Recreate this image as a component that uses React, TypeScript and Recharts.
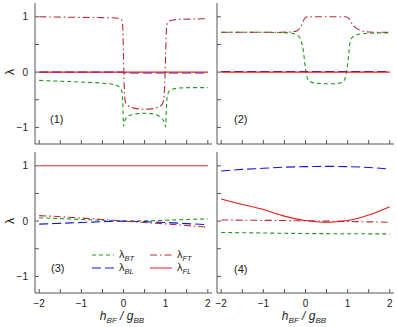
import React from 'react'
import { LineChart, Line, XAxis, YAxis, Legend } from 'recharts'

const FONT = '"Liberation Sans", Arial, Helvetica, sans-serif'

// panel (1)
const p1X = [-2, -1.5, -1, -0.5, -0.2, -0.1, -0.05, -0.02, 0, 0.02, 0.05, 0.1, 0.2, 0.35, 0.5, 0.65, 0.8, 0.9, 0.95, 0.98, 1, 1.02, 1.05, 1.1, 1.2, 1.4, 1.7, 2]
const p1BT = [-0.15, -0.165, -0.18, -0.2, -0.23, -0.27, -0.32, -0.5, -0.98, -0.9, -0.85, -0.8, -0.77, -0.75, -0.745, -0.75, -0.78, -0.83, -0.88, -0.93, -0.99, -0.6, -0.4, -0.33, -0.3, -0.285, -0.28, -0.28]
const p1BL = [0, 0, 0, 0, 0, 0, 0, 0, -0.01, -0.015, -0.015, -0.015, -0.015, -0.015, -0.015, -0.015, -0.015, -0.015, -0.015, -0.015, -0.015, -0.015, -0.015, -0.015, -0.015, -0.015, -0.015, -0.015]
const p1FT = [1, 0.995, 0.99, 0.985, 0.98, 0.97, 0.95, 0.85, 0.3, -0.35, -0.55, -0.6, -0.64, -0.665, -0.67, -0.665, -0.64, -0.6, -0.52, -0.2, 0.3, 0.8, 0.9, 0.93, 0.945, 0.955, 0.96, 0.965]
const p1FL = p1X.map(() => 0)

// panel (2)
const p2X = [-2, -1.5, -1, -0.6, -0.4, -0.3, -0.2, -0.15, -0.1, -0.05, 0, 0.05, 0.1, 0.2, 0.35, 0.5, 0.65, 0.8, 0.9, 0.95, 1, 1.05, 1.1, 1.2, 1.3, 1.5, 1.75, 2]
const p2BT = [0.72, 0.72, 0.72, 0.715, 0.71, 0.7, 0.67, 0.64, 0.56, 0.38, 0.05, -0.12, -0.17, -0.195, -0.205, -0.21, -0.21, -0.2, -0.17, -0.08, 0.15, 0.5, 0.62, 0.67, 0.69, 0.7, 0.71, 0.71]
const p2BL = p2X.map(() => 0.01)
const p2FT = [0.72, 0.72, 0.72, 0.72, 0.725, 0.73, 0.75, 0.78, 0.84, 0.93, 0.99, 1, 1, 1, 1, 1, 1, 1, 1, 1, 0.99, 0.95, 0.88, 0.8, 0.755, 0.725, 0.72, 0.72]
const p2FL = p2X.map(() => 0)

// panel (3)
const p3X = [-2, -1.5, -1, -0.5, 0, 0.5, 1, 1.5, 2]
const p3BT = [0.06, 0.045, 0.03, 0.015, 0, 0.005, 0.015, 0.03, 0.04]
const p3BL = [-0.055, -0.04, -0.025, -0.01, 0, -0.01, -0.025, -0.045, -0.065]
const p3FT = [0.1, 0.08, 0.055, 0.03, 0, -0.025, -0.05, -0.08, -0.11]
const p3FL = [1, 1, 1, 1, 1, 1, 1, 1, 1]

// panel (4)
const p4X = [-2, -1.5, -1, -0.5, 0, 0.25, 0.5, 0.75, 1, 1.5, 2]
const p4BT = [-0.205, -0.21, -0.215, -0.22, -0.224, -0.226, -0.227, -0.228, -0.229, -0.23, -0.232]
const p4BL = [0.905, 0.935, 0.955, 0.975, 0.985, 0.988, 0.99, 0.989, 0.985, 0.97, 0.94]
const p4FT = [0.02, 0.017, 0.014, 0.01, 0.005, 0.002, 0, -0.003, -0.006, -0.013, -0.02]
const p4FL = [0.4, 0.3, 0.21, 0.09, 0.01, -0.01, -0.02, -0.01, 0.01, 0.11, 0.26]

const X_TICKS = [-2, -1.5, -1, -0.5, 0, 0.5, 1, 1.5, 2]
const Y_TICKS = [-1, -0.5, 0, 0.5, 1]
const X_DOMAIN: [number, number] = [-2.1, 2.1]
const Y_DOMAIN: [number, number] = [-1.3, 1.25]

const SERIES = [
  { key: 'bt', sub: 'BT', color: '#1f9a1f', dash: '4 3' },
  { key: 'bl', sub: 'BL', color: '#1414f0', dash: '9 4' },
  { key: 'ft', sub: 'FT', color: '#b52a33', dash: '7 3 1.5 3' },
  { key: 'fl', sub: 'FL', color: '#f01818', dash: undefined as string | undefined },
]

type Row = { x: number; bt: number; bl: number; ft: number; fl: number }
function rows(x: number[], bt: number[], bl: number[], ft: number[], fl: number[]): Row[] {
  return x.map((v, i) => ({ x: v, bt: bt[i], bl: bl[i], ft: ft[i], fl: fl[i] }))
}

const fmtTick = (v: number) => (Number.isInteger(v) ? (v < 0 ? `\u2212${-v}` : String(v)) : '')
const blank = () => ''

const PLOT_W = 177
const PLOT_H = 141
const AX = '#555'
const tickStyle = { fill: '#222', fontSize: 10, fontFamily: FONT }

function LegendBox() {
  const order = [[SERIES[0], SERIES[2]], [SERIES[1], SERIES[3]]]
  return (
    <div style={{ fontFamily: FONT, color: '#222' }}>
      {order.map((row, ri) => (
        <div key={ri} style={{ display: 'flex', height: 13.4, alignItems: 'center' }}>
          {row.map(s => (
            <div key={s.key} style={{ display: 'flex', alignItems: 'center', width: 58 }}>
              <svg width={22} height={10}>
                <line x1={0} x2={22} y1={5} y2={5} stroke={s.color} strokeWidth={1} strokeDasharray={s.dash} />
              </svg>
              <span style={{ fontSize: 11, marginLeft: 5, lineHeight: '11px' }}>
                λ<span style={{ fontSize: 7.5, fontStyle: 'italic', position: 'relative', top: 3 }}>{s.sub}</span>
              </span>
            </div>
          ))}
        </div>
      ))}
    </div>
  )
}

function Panel({ left, top, data, yLabels, xLabels, legend }: {
  left: number; top: number; data: Row[]; yLabels: boolean; xLabels: boolean; legend?: boolean
}) {
  const padL = yLabels ? 35 : 8
  const padB = xLabels ? 20 : 1
  const w = padL + PLOT_W + 3
  const h = 1 + PLOT_H + padB
  return (
    <div style={{ position: 'absolute', left: left - padL, top: top - 1 }}>
      <LineChart width={w} height={h} data={data} margin={{ top: 1, right: 3, bottom: 0, left: 0 }}>
        <XAxis xAxisId="b" dataKey="x" type="number" domain={X_DOMAIN} ticks={X_TICKS} allowDataOverflow
          orientation="bottom" height={padB} interval={0} tickSize={-4} tickMargin={10.5}
          tickFormatter={xLabels ? fmtTick : blank} stroke={AX} tick={tickStyle} />
        <XAxis xAxisId="t" dataKey="x" type="number" domain={X_DOMAIN} ticks={X_TICKS} allowDataOverflow
          orientation="top" height={0} interval={0} tickSize={-4} tickFormatter={blank} stroke={AX} tick={tickStyle} />
        <YAxis yAxisId="l" type="number" domain={Y_DOMAIN} ticks={Y_TICKS} allowDataOverflow
          orientation="left" width={padL} interval={0} tickSize={-4} tickMargin={11}
          tickFormatter={yLabels ? fmtTick : blank} stroke={AX} tick={tickStyle} />
        <YAxis yAxisId="r" type="number" domain={Y_DOMAIN} ticks={Y_TICKS} allowDataOverflow
          orientation="right" width={0} interval={0} tickSize={-4} tickFormatter={blank} stroke={AX} tick={tickStyle} />
        {SERIES.map(s => (
          <Line key={s.key} xAxisId="b" yAxisId="l" dataKey={s.key} type="monotone" stroke={s.color}
            strokeWidth={1.1} strokeDasharray={s.dash} dot={false} isAnimationActive={false} />
        ))}
        {legend && (
          <Legend layout="horizontal" verticalAlign="middle" align="center" content={() => <LegendBox />}
            wrapperStyle={{ left: 92, top: 97, width: 120, height: 27 }} />
        )}
      </LineChart>
    </div>
  )
}

const txt: React.CSSProperties = { position: 'absolute', fontFamily: FONT, color: '#222', whiteSpace: 'nowrap' }

function XLabel({ cx }: { cx: number }) {
  return (
    <div style={{ ...txt, left: cx - 50, width: 100, textAlign: 'center', top: 310, fontSize: 12, lineHeight: '13px', fontStyle: 'italic' }}>
      h<span style={{ fontSize: 8, position: 'relative', top: 3 }}>BF</span> / g<span style={{ fontSize: 8, position: 'relative', top: 3 }}>BB</span>
    </div>
  )
}

function YLabel({ cy }: { cy: number }) {
  return (
    <div style={{ ...txt, left: 4, top: cy - 7, width: 12, height: 14, lineHeight: '14px', textAlign: 'center', fontSize: 12, transform: 'rotate(-90deg)' }}>
      λ
    </div>
  )
}

export default function App() {
  return (
    <div style={{ position: 'absolute', left: 0, top: 0, width: 397, height: 327, background: '#fff' }}>
      <Panel left={35} top={3} data={rows(p1X, p1BT, p1BL, p1FT, p1FL)} yLabels xLabels={false} />
      <Panel left={217} top={3} data={rows(p2X, p2BT, p2BL, p2FT, p2FL)} yLabels={false} xLabels={false} />
      <Panel left={35} top={152} data={rows(p3X, p3BT, p3BL, p3FT, p3FL)} yLabels xLabels legend />
      <Panel left={217} top={152} data={rows(p4X, p4BT, p4BL, p4FT, p4FL)} yLabels={false} xLabels />
      <div style={{ ...txt, left: 50, top: 113, fontSize: 11, lineHeight: '13px' }}>(1)</div>
      <div style={{ ...txt, left: 234, top: 113, fontSize: 11, lineHeight: '13px' }}>(2)</div>
      <div style={{ ...txt, left: 51, top: 262, fontSize: 11, lineHeight: '13px' }}>(3)</div>
      <div style={{ ...txt, left: 234, top: 263, fontSize: 11, lineHeight: '13px' }}>(4)</div>
      <YLabel cy={72} />
      <YLabel cy={221} />
      <XLabel cx={122} />
      <XLabel cx={304} />
    </div>
  )
}
